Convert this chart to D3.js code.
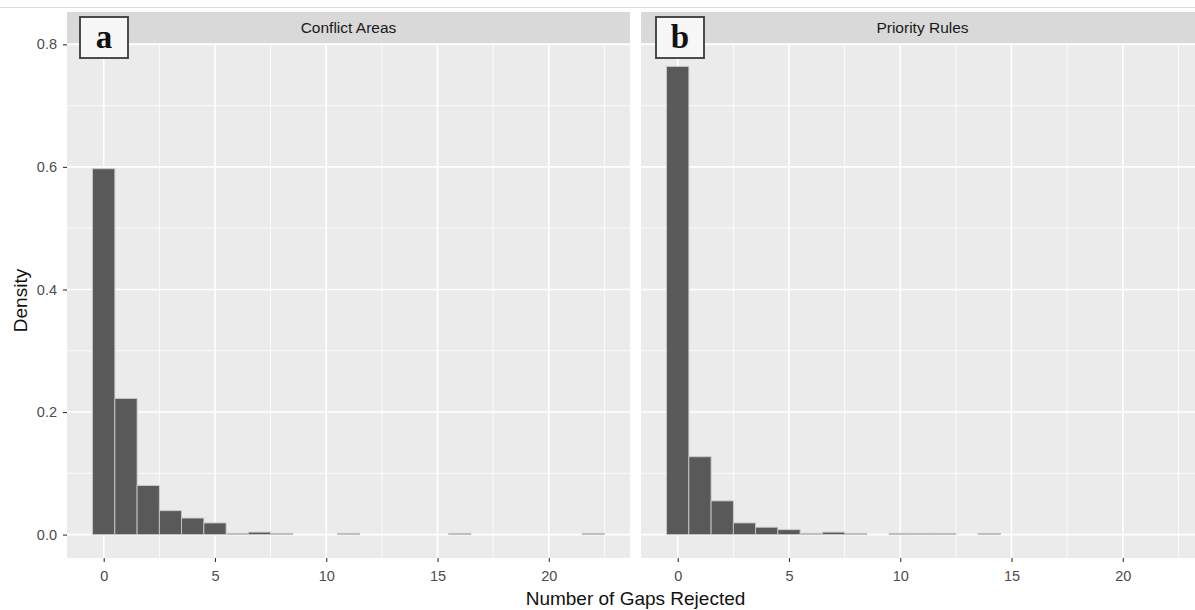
<!DOCTYPE html>
<html>
<head>
<meta charset="utf-8">
<script src="https://cdn.jsdelivr.net/npm/d3@7"></script>
<style>
  html, body { margin: 0; padding: 0; background: #ffffff; }
  svg { display: block; font-family: "Liberation Sans", Arial, sans-serif; }
</style>
</head>
<body>
<svg id="chart" width="1195" height="610"></svg>
<script>
// Histogram densities of rejected gaps, one bin per integer count
const gapCounts = d3.range(0, 23);
const conflictAreas = [0.597, 0.222, 0.080, 0.039, 0.027, 0.019, 0.002, 0.004, 0.002, 0, 0, 0.002,
                       0, 0, 0, 0, 0.002, 0, 0, 0, 0, 0, 0.002];
const priorityRules = [0.764, 0.127, 0.055, 0.019, 0.012, 0.008, 0.002, 0.004, 0.002, 0, 0.002, 0.002,
                       0.002, 0, 0.002, 0, 0, 0, 0, 0, 0, 0, 0];
const panelTitles = ["Conflict Areas", "Priority Rules"];
const panelTags = ["a", "b"];
const xTicks = [0, 5, 10, 15, 20];
const xMinor = [2.5, 7.5, 12.5, 17.5, 22.5];
const yTicks = [0, 0.2, 0.4, 0.6, 0.8];
const yMinor = [0.1, 0.3, 0.5, 0.7];

const panels = [conflictAreas, priorityRules].map((vals, i) => ({
  title: panelTitles[i],
  tag: panelTags[i],
  bins: gapCounts.map((g, j) => ({ g, v: vals[j] })).filter(d => d.v > 0)
}));

const svg = d3.select("#chart");
const sans = "Liberation Sans, Arial, sans-serif";
const serif = "Liberation Serif, Times New Roman, serif";

// thin rule along the top edge
svg.append("line").attr("x1", 0).attr("x2", 1195).attr("y1", 7.5).attr("y2", 7.5)
  .attr("stroke", "#dcdcdc").attr("stroke-width", 1);

const panelW = 563, panelTop = 43, panelBottom = 558, stripTop = 12;
const panelX = [67, 641];

// shared scales with 5% padding like the usual histogram defaults
const xLo = -0.5, xHi = 22.5, xPad = (xHi - xLo) * 0.05;
const yMax = d3.max([...conflictAreas, ...priorityRules]), yPad = yMax * 0.05;
const x = d3.scaleLinear().domain([xLo - xPad, xHi + xPad]).range([0, panelW]);
const y = d3.scaleLinear().domain([-yPad, yMax + yPad]).range([panelBottom, panelTop]);

panels.forEach((p, i) => {
  const g = svg.append("g").attr("transform", `translate(${panelX[i]},0)`);

  // panel background
  g.append("rect").attr("x", 0).attr("y", panelTop).attr("width", panelW)
    .attr("height", panelBottom - panelTop).attr("fill", "#ebebeb");

  // grid
  g.selectAll(".ymin").data(yMinor).join("line")
    .attr("x1", 0).attr("x2", panelW).attr("y1", d => y(d)).attr("y2", d => y(d))
    .attr("stroke", "#ffffff").attr("stroke-width", 0.8);
  g.selectAll(".xmin").data(xMinor).join("line")
    .attr("x1", d => x(d)).attr("x2", d => x(d)).attr("y1", panelTop).attr("y2", panelBottom)
    .attr("stroke", "#ffffff").attr("stroke-width", 0.8);
  g.selectAll(".ymaj").data(yTicks).join("line")
    .attr("x1", 0).attr("x2", panelW).attr("y1", d => y(d)).attr("y2", d => y(d))
    .attr("stroke", "#ffffff").attr("stroke-width", 1.6);
  g.selectAll(".xmaj").data(xTicks).join("line")
    .attr("x1", d => x(d)).attr("x2", d => x(d)).attr("y1", panelTop).attr("y2", panelBottom)
    .attr("stroke", "#ffffff").attr("stroke-width", 1.6);

  // bars
  g.selectAll(".bar").data(p.bins).join("rect")
    .attr("x", d => x(d.g - 0.5))
    .attr("width", x(1) - x(0))
    .attr("y", d => y(d.v))
    .attr("height", d => y(0) - y(d.v))
    .attr("fill", "#595959")
    .attr("stroke", "#c8c8c8")
    .attr("stroke-width", 0.9);

  // strip
  g.append("rect").attr("x", 0).attr("y", stripTop).attr("width", panelW)
    .attr("height", panelTop - stripTop).attr("fill", "#d9d9d9");
  g.append("text").attr("x", panelW / 2).attr("y", (stripTop + panelTop) / 2 + 5)
    .attr("text-anchor", "middle").style("font-family", sans).style("font-size", "15.5px")
    .attr("fill", "#1a1a1a")
    .text(p.title);

  // x axis
  const xa = g.append("g").attr("transform", `translate(0,${panelBottom})`)
    .call(d3.axisBottom(x).tickValues(xTicks).tickSize(4).tickPadding(9).tickFormat(d3.format("d")));
  xa.select(".domain").remove();
  xa.selectAll("line").attr("stroke", "#333333").attr("stroke-width", 1.1);
  xa.selectAll("text").style("font-size", "14.5px").style("font-family", sans).attr("fill", "#4d4d4d");

  // y axis on the first panel only
  if (i === 0) {
    const ya = g.append("g")
      .call(d3.axisLeft(y).tickValues(yTicks).tickSize(4).tickPadding(6).tickFormat(d3.format(".1f")));
    ya.select(".domain").remove();
    ya.selectAll("line").attr("stroke", "#333333").attr("stroke-width", 1.1);
    ya.selectAll("text").style("font-size", "14.5px").style("font-family", sans).attr("fill", "#4d4d4d");
  }

  // panel tag box
  const tx = i === 0 ? 13 : 15;
  g.append("rect").attr("x", tx).attr("y", 17).attr("width", 48).attr("height", 41)
    .attr("fill", "#f7f7f7").attr("stroke", "#3a3a3a").attr("stroke-width", 1.8);
  g.append("text").attr("x", tx + 24).attr("y", 48).attr("text-anchor", "middle")
    .style("font-family", serif).style("font-weight", "bold").style("font-size", "33px")
    .attr("fill", "#111111")
    .text(p.tag);
});

// axis titles
svg.append("text").attr("x", (panelX[0] + panelX[1] + panelW) / 2).attr("y", 605)
  .attr("text-anchor", "middle").style("font-family", sans).style("font-size", "19px")
  .attr("fill", "#111111")
  .text("Number of Gaps Rejected");
svg.append("text")
  .attr("transform", `translate(27,${(panelTop + panelBottom) / 2}) rotate(-90)`)
  .attr("text-anchor", "middle").style("font-family", sans).style("font-size", "19px")
  .attr("fill", "#111111")
  .text("Density");
</script>
</body>
</html>
